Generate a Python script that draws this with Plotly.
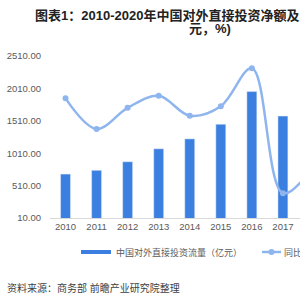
import plotly.graph_objects as go

years = ["2010", "2011", "2012", "2013", "2014", "2015", "2016", "2017", "2018", "2019", "2020"]
flow = [688, 746, 878, 1078, 1231, 1457, 1961, 1583, 1430, 1369, 1537]
growth = [21.7, 8.5, 17.6, 22.8, 14.2, 18.3, 34.7, -19.3, -9.6, -4.3, 12.3]
y_ticks = [10, 510, 1010, 1510, 2010, 2510]

bar_name = "中国对外直接投资流量（亿元）"
line_name = "同比增长（%）"
bar_color = "#3b7fe0"
line_color = "#8fb5ee"
font_main = "Liberation Sans, Noto Sans CJK SC"


def px_x(px):
    return (px - 50) / 250


def px_y(py):
    return (218 - py) / 162


fig = go.Figure()
fig.add_trace(go.Bar(x=years, y=flow, marker_color=bar_color, width=0.32,
                     showlegend=False, name=bar_name))
# legend stand-in for bars (Excel style line-shaped key)
fig.add_trace(go.Scatter(x=[None], y=[None], mode="lines", name=bar_name,
                         line=dict(color=bar_color, width=4)))
fig.add_trace(go.Scatter(x=years, y=growth, yaxis="y2", mode="lines+markers",
                         name=line_name, showlegend=False,
                         line=dict(color=line_color, width=2.5, shape="spline", smoothing=1.0),
                         marker=dict(size=6, color=line_color)))

fig.update_layout(
    width=300, height=300,
    margin=dict(l=50, r=0, t=56, b=82),
    paper_bgcolor="white", plot_bgcolor="white",
    font=dict(family=font_main, size=10, color="#595959"),
    xaxis=dict(type="category", range=[-0.5, 7.55], showgrid=False,
               showline=True, linecolor="#d9d9d9", linewidth=1,
               tickfont=dict(size=9.5, color="#595959"), ticks="", fixedrange=True),
    yaxis=dict(range=[10, 2510], tickvals=y_ticks, tickformat=".2f", showgrid=False,
               zeroline=False, showline=False, ticklabelstandoff=8,
               tickfont=dict(size=9.5, color="#595959")),
    yaxis2=dict(range=[-30, 40], overlaying="y", side="right", showgrid=False,
                zeroline=False, showticklabels=False, showline=False),
    legend=dict(orientation="h", xanchor="left", x=px_x(76), yref="container", y=1 - 252 / 300,
                yanchor="middle", font=dict(size=9, color="#595959"),
                itemwidth=30, bgcolor="rgba(0,0,0,0)"),
    showlegend=True,
)

# key for the growth line (drawn by hand; its text runs past the right edge as in the source)
fig.add_shape(type="line", xref="paper", yref="paper", x0=px_x(262), x1=px_x(281),
              y0=px_y(252), y1=px_y(252), line=dict(color=line_color, width=2.5))
fig.add_shape(type="circle", xref="paper", yref="paper", x0=px_x(268.5), x1=px_x(274.5),
              y0=px_y(255), y1=px_y(249), line=dict(color=line_color, width=0),
              fillcolor=line_color)
fig.add_annotation(text=line_name, xref="paper", yref="paper", x=px_x(282), y=px_y(252),
                   xanchor="left", yanchor="middle", showarrow=False,
                   font=dict(size=9, color="#595959", family=font_main))

fig.add_annotation(text="<b>图表1：2010-2020年中国对外直接投资净额及同比增长（亿</b>",
                   xref="paper", yref="paper", x=px_x(33), y=px_y(15),
                   xanchor="left", yanchor="middle", showarrow=False,
                   font=dict(size=13, color="#222222", family=font_main))
fig.add_annotation(text="<b>元，%)</b>",
                   xref="paper", yref="paper", x=px_x(210), y=px_y(29),
                   xanchor="center", yanchor="middle", showarrow=False,
                   font=dict(size=13, color="#222222", family=font_main))
fig.add_annotation(text="资料来源：商务部 前瞻产业研究院整理",
                   xref="paper", yref="paper", x=px_x(5), y=px_y(288),
                   xanchor="left", yanchor="middle", showarrow=False,
                   font=dict(size=10, color="#404040", family=font_main))

fig.write_html("out.html")
